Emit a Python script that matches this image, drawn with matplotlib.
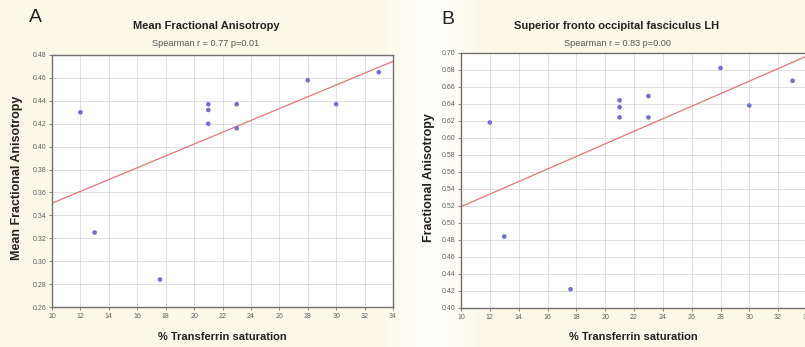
import numpy as np
import matplotlib
matplotlib.use("Agg")
import matplotlib.pyplot as plt

plt.rcParams['font.family'] = ['Liberation Sans', 'DejaVu Sans']

# Transferrin saturation (%) per subject
tsat = [12, 13, 17.6, 21, 21, 21, 23, 23, 28, 30, 33]
# Mean fractional anisotropy (panel A)
mean_fa = [0.430, 0.325, 0.284, 0.437, 0.432, 0.420, 0.437, 0.416, 0.458, 0.437, 0.465]
# Fractional anisotropy, superior fronto-occipital fasciculus LH (panel B)
sfof_fa = [0.618, 0.484, 0.422, 0.644, 0.636, 0.624, 0.649, 0.624, 0.682, 0.638, 0.667]

x_ticks = list(range(10, 35, 2))
a_yticks = [0.26, 0.28, 0.30, 0.32, 0.34, 0.36, 0.38, 0.40, 0.42, 0.44, 0.46, 0.48]
b_yticks = [0.40, 0.42, 0.44, 0.46, 0.48, 0.50, 0.52, 0.54, 0.56, 0.58, 0.60,
            0.62, 0.64, 0.66, 0.68, 0.70]

cream = '#fcf8ea'
fig = plt.figure(figsize=(8.05, 3.47), dpi=100, facecolor=cream)

# soft background: cream with a paler band between the two panels
bg = fig.add_axes([0, 0, 1, 1], zorder=-10)
xs = np.linspace(0, 1, 805)
band = np.exp(-((xs - 0.535) / 0.05) ** 2)
c0 = np.array([252, 248, 232]) / 255
c1 = np.array([255, 254, 250]) / 255
row = c0[None, :] * (1 - band[:, None]) + c1[None, :] * band[:, None]
bg.imshow(np.tile(row[None, :, :], (10, 1, 1)), aspect='auto', extent=[0, 1, 0, 1])
bg.set_axis_off()


def panel(rect, x, y, yticks, title, subtitle, ylabel, letter, letter_xy,
          title_x, ylabel_x):
    ax = fig.add_axes(rect)
    ax.set_facecolor('white')
    ax.set_xlim(10, 34)
    ax.set_ylim(yticks[0], yticks[-1])
    ax.set_xticks(x_ticks)
    ax.set_yticks(yticks)
    ax.set_xticklabels([str(t) for t in x_ticks])
    ax.set_yticklabels([f"{t:.2f}" for t in yticks])
    ax.grid(True, color='#dadada', linewidth=0.6)
    ax.set_axisbelow(True)
    for s in ax.spines.values():
        s.set_color('#707070')
        s.set_linewidth(1.0)
    ax.tick_params(axis='both', labelsize=5, colors='#707070', length=2,
                   width=0.6, labelcolor='#606060', pad=2)

    slope, icpt = np.polyfit(x, y, 1)
    xx = np.array([10, 34])
    ax.plot(xx, icpt + slope * xx, color='#e87474', linewidth=0.9, zorder=2)
    ax.scatter(x, y, s=11, color='#6f6fd8', edgecolors='none', zorder=3)

    fig.text(title_x, 1 - 26 / 347, title, ha='center', va='center',
             fontsize=8, fontweight='bold', color='#222222')
    fig.text(title_x, 1 - 43 / 347, subtitle, ha='center', va='center',
             fontsize=6.6, color='#555555')
    fig.text(letter_xy[0], letter_xy[1], letter, ha='center', va='center',
             fontsize=14, color='#222222')
    fig.text(title_x + 0.02, 1 - 337 / 347, '% Transferrin saturation',
             ha='center', va='center', fontsize=8, fontweight='bold',
             color='#222222')
    fig.text(ylabel_x, 1 - 178 / 347, ylabel, ha='center', va='center',
             rotation=90, fontsize=9, fontweight='bold', color='#222222')
    return ax


panel([52 / 805, 1 - 307 / 347, 341 / 805, 252 / 347], tsat, mean_fa, a_yticks,
      'Mean Fractional Anisotropy', 'Spearman r = 0.77 p=0.01',
      'Mean Fractional Anisotropy', 'A', (35 / 805, 1 - 18 / 347),
      206 / 805, 17 / 805)

panel([461 / 805, 1 - 308 / 347, 346 / 805, 255.3 / 347], tsat, sfof_fa, b_yticks,
      'Superior fronto occipital fasciculus LH', 'Spearman r = 0.83 p=0.00',
      'Fractional Anisotropy', 'B', (448 / 805, 1 - 20 / 347),
      617 / 805, 429 / 805)

fig.savefig('out.png', dpi=100, facecolor=cream)
